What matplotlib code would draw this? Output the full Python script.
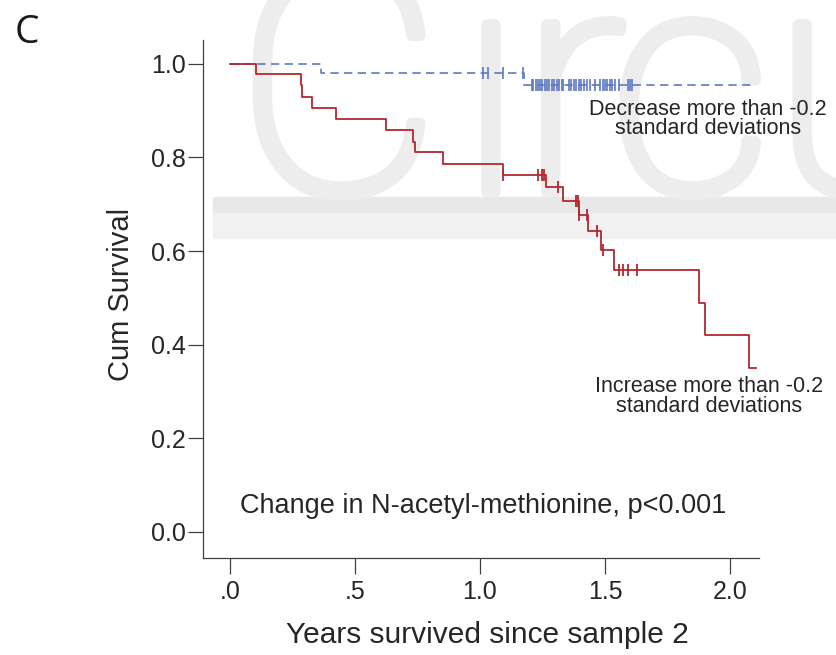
import numpy as np
import matplotlib
matplotlib.use("Agg")
import matplotlib.pyplot as plt
from matplotlib.patches import Rectangle
import matplotlib.patheffects as pe

# ---------------- data ----------------
red_times = [0.103, 0.285, 0.290, 0.329, 0.426, 0.625, 0.732, 0.739, 0.854, 1.091,
             1.265, 1.333, 1.397, 1.433, 1.484, 1.537, 1.876, 1.900, 2.075]
red_surv = [0.978, 0.955, 0.929, 0.905, 0.882, 0.859, 0.834, 0.811, 0.787, 0.763,
            0.736, 0.708, 0.677, 0.642, 0.603, 0.559, 0.488, 0.420, 0.350]
red_end = 2.105
red_censored = [1.091, 1.231, 1.247, 1.255, 1.313, 1.386, 1.393, 1.397, 1.430,
                1.470, 1.493, 1.556, 1.574, 1.593, 1.630]

blue_times = [0.366, 1.178]
blue_surv = [0.980, 0.955]
blue_end = 2.10
blue_censored = [1.014, 1.031, 1.094, 1.171, 1.207, 1.214, 1.224, 1.231, 1.240,
                 1.247, 1.260, 1.267, 1.276, 1.287, 1.296, 1.307, 1.316, 1.327,
                 1.333, 1.357, 1.366, 1.377, 1.386, 1.396, 1.406, 1.417, 1.429,
                 1.442, 1.460, 1.482, 1.493, 1.502, 1.510, 1.520, 1.529, 1.540,
                 1.557, 1.593, 1.600, 1.609]

x_ticks = [0.0, 0.5, 1.0, 1.5, 2.0]
x_ticklabels = [".0", ".5", "1.0", "1.5", "2.0"]
y_ticks = [0.0, 0.2, 0.4, 0.6, 0.8, 1.0]
y_ticklabels = ["0.0", "0.2", "0.4", "0.6", "0.8", "1.0"]

label_decrease = ["Decrease more than -0.2", "standard deviations"]
label_increase = ["Increase more than -0.2", "standard deviations"]
annotation = "Change in N-acetyl-methionine, p<0.001"

RED = "#b3282f"
BLUE = "#5f78c2"
TXT = "#262626"
SPINE = "#404040"
FONT = "Liberation Sans"

W, H = 837, 655
fig = plt.figure(figsize=(W / 100, H / 100), dpi=100)

def fx(px):
    return px / W

def fy(py):
    return 1 - py / H

# ---------------- watermark (background) ----------------
WM = "#ededed"
fig.patches.append(Rectangle((fx(213), fy(213)), 1 - fx(213), fy(197) - fy(213),
                             transform=fig.transFigure, color="#e8e8e8", zorder=-5))
fig.patches.append(Rectangle((fx(213), fy(238)), 1 - fx(213), fy(213) - fy(238),
                             transform=fig.transFigure, color="#f1f1f1", zorder=-5))
for ch, px in [("C", 236), ("i", 458), ("r", 520), ("c", 610), ("u", 772)]:
    fig.text(fx(px), fy(192), ch, fontsize=228, family="Roboto", fontweight="light",
             color=WM, ha="left", va="baseline", zorder=-5,
             path_effects=[pe.withStroke(linewidth=8, foreground=WM)])

# ---------------- axes ----------------
ax = fig.add_axes([fx(203), fy(558), fx(759) - fx(203), fy(40) - fy(558)])
ax.set_zorder(5)
ax.set_facecolor("none")
ax.set_xlim(-0.108, 2.116)
ax.set_ylim(-0.056, 1.051)

def step_xy(times, surv, end):
    xs = np.concatenate([[0.0], times, [end]])
    ys = np.concatenate([[1.0], surv, [surv[-1]]])
    return xs, ys

def censor_y(times, surv, cens):
    idx = np.searchsorted(np.asarray(times), np.asarray(cens), side="right")
    levels = np.concatenate([[1.0], surv])
    return levels[idx]

bx, by = step_xy(blue_times, blue_surv, blue_end)
ax.step(bx, by, where="post", color=BLUE, lw=1.2, linestyle=(0, (5.0, 3.2)), zorder=3)
ax.plot(blue_censored, censor_y(blue_times, blue_surv, blue_censored), linestyle="none",
        marker="|", markersize=8, markeredgewidth=1.2, color=BLUE, zorder=3)

rx, ry = step_xy(red_times, red_surv, red_end)
ax.step(rx, ry, where="post", color=RED, lw=1.3, zorder=4)
ax.plot(red_censored, censor_y(red_times, red_surv, red_censored), linestyle="none",
        marker="|", markersize=9, markeredgewidth=1.3, color=RED, zorder=4)

for s in ["top", "right"]:
    ax.spines[s].set_visible(False)
for s in ["left", "bottom"]:
    ax.spines[s].set_color(SPINE)
    ax.spines[s].set_linewidth(0.9)

ax.set_xticks(x_ticks)
ax.set_xticklabels(x_ticklabels)
ax.set_yticks(y_ticks)
ax.set_yticklabels(y_ticklabels)
ax.tick_params(axis="x", length=11.5, width=0.9, color=SPINE, pad=4, labelsize=18,
               labelcolor=TXT)
ax.tick_params(axis="y", length=11, width=0.9, color=SPINE, pad=1.5, labelsize=18,
               labelcolor=TXT)
for lab in ax.get_xticklabels() + ax.get_yticklabels():
    lab.set_family(FONT)

# labels inside the plot
for i, line in enumerate(label_decrease):
    fig.text(fx(708), fy(115 + 19 * i), line, fontsize=15.5, family=FONT, color=TXT,
             ha="center", va="baseline", zorder=6)
for i, line in enumerate(label_increase):
    fig.text(fx(709), fy(392 + 19.5 * i), line, fontsize=15.5, family=FONT, color=TXT,
             ha="center", va="baseline", zorder=6)
fig.text(fx(240), fy(513), annotation, fontsize=19.5, family=FONT, color=TXT,
         ha="left", va="baseline", zorder=6)

# axis titles
fig.text(fx(487), fy(643), "Years survived since sample 2", fontsize=21.5, family=FONT,
         color=TXT, ha="center", va="baseline")
fig.text(fx(129), fy(294), "Cum Survival", fontsize=21, family=FONT, color=TXT,
         rotation=90, rotation_mode="anchor", ha="center", va="baseline")

# panel letter
fig.text(fx(15), fy(43), "C", fontsize=28, family="Open Sans", color="#1a1a1a",
         ha="left", va="baseline")

fig.savefig("out.png", dpi=100)
